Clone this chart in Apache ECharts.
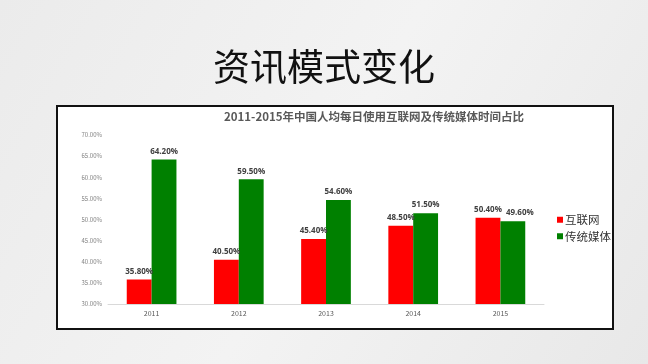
<!DOCTYPE html>
<html><head><meta charset="utf-8">
<script src="https://cdn.jsdelivr.net/npm/echarts@6/dist/echarts.min.js"></script>
<style>html,body{margin:0;padding:0;background:#ececec;}#c{width:648px;height:364px;}</style>
</head><body><div id="c"></div>
<script>
const categories = ['2011','2012','2013','2014','2015'];
const internet = [35.8, 40.5, 45.4, 48.5, 50.4];
const traditional = [64.2, 59.5, 54.6, 51.5, 49.6];
const seriesNames = ['互联网','传统媒体'];
const pageTitle = '资讯模式变化';
const chartTitle = '2011-2015年中国人均每日使用互联网及传统媒体时间占比';

const chart = echarts.init(document.getElementById('c'));
const font = '"Noto Sans CJK SC", "Open Sans", sans-serif';
const pct = v => v.toFixed(2) + '%';
const labelStyle = {show: true, position: 'top', formatter: p => pct(p.value), fontSize: 8, fontWeight: 'bold', color: '#404040', distance: 4, fontFamily: '"Open Sans", sans-serif'};
// last traditional label nudged right to avoid overlapping its neighbour, as in the original
const traditionalData = traditional.map((v, i) => i === traditional.length - 1 ? {value: v, label: {offset: [7, 0]}} : v);
chart.setOption({
  backgroundColor: {
    type: 'linear', x: 0, y: 0, x2: 1, y2: 1,
    colorStops: [{offset: 0, color: '#ebebeb'}, {offset: 0.5, color: '#f3f3f3'}, {offset: 1, color: '#e8e8e8'}]
  },
  textStyle: {fontFamily: font},
  graphic: [{
    type: 'rect', z: -1, shape: {x: 57, y: 106, width: 556, height: 223},
    style: {fill: '#ffffff', stroke: '#111111', lineWidth: 2}
  }],
  title: [
    {text: pageTitle, left: 'center', top: 43, textStyle: {fontSize: 37, fontWeight: 'normal', color: '#111111', fontFamily: font}},
    {text: chartTitle, left: 369, textAlign: 'center', top: 106, textStyle: {fontSize: 11.5, fontWeight: 'bold', color: '#595959', fontFamily: font}}
  ],
  legend: {
    orient: 'vertical', left: 552, top: 209, itemWidth: 6, itemHeight: 6, itemGap: 5,
    icon: 'rect', textStyle: {fontSize: 11.5, color: '#333333', fontFamily: font, padding: [0,0,0,-3]},
    data: seriesNames
  },
  grid: {left: 108, right: 104, top: 135, bottom: 60},
  xAxis: {
    type: 'category', data: categories,
    axisLine: {lineStyle: {color: '#d9d9d9'}}, axisTick: {show: false},
    axisLabel: {fontSize: 7, color: '#595959', margin: 6}
  },
  yAxis: {
    type: 'value', min: 30, max: 70, interval: 5,
    splitLine: {show: false}, axisLine: {show: false}, axisTick: {show: false},
    axisLabel: {fontSize: 6, color: '#7f7f7f', formatter: v => v.toFixed(2) + '%', margin: 6}
  },
  series: [
    {name: seriesNames[0], type: 'bar', data: internet, barGap: '0%', barCategoryGap: '43%',
     itemStyle: {color: '#ff0000'}, label: labelStyle},
    {name: seriesNames[1], type: 'bar', data: traditionalData,
     itemStyle: {color: '#008000'}, label: labelStyle}
  ]
});
</script></body></html>
